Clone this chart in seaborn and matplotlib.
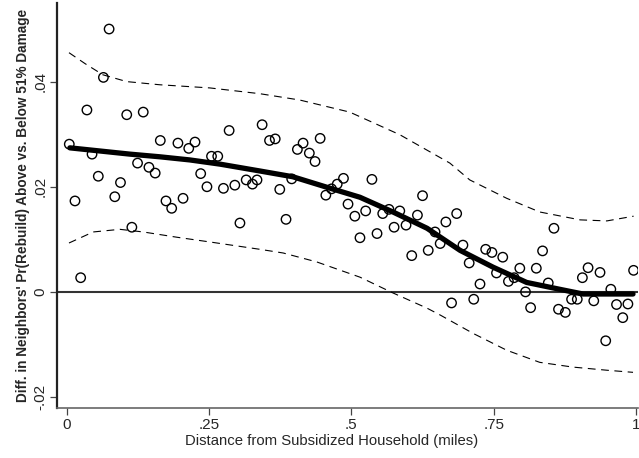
import numpy as np
import pandas as pd
import matplotlib
matplotlib.use("Agg")
import matplotlib.pyplot as plt
import seaborn as sns

# binned scatter
dist = [0.004, 0.014, 0.024, 0.035, 0.044, 0.055, 0.064, 0.074, 0.084, 0.094,
        0.105, 0.114, 0.124, 0.134, 0.144, 0.155, 0.164, 0.174, 0.184, 0.195,
        0.204, 0.214, 0.225, 0.235, 0.246, 0.254, 0.265, 0.275, 0.285, 0.295,
        0.304, 0.315, 0.326, 0.334, 0.343, 0.356, 0.366, 0.374, 0.385, 0.395,
        0.405, 0.415, 0.426, 0.436, 0.445, 0.455, 0.465, 0.475, 0.486, 0.494,
        0.506, 0.515, 0.525, 0.536, 0.545, 0.555, 0.566, 0.575, 0.585, 0.596,
        0.606, 0.616, 0.625, 0.635, 0.647, 0.656, 0.666, 0.676, 0.685, 0.696,
        0.707, 0.715, 0.726, 0.736, 0.747, 0.755, 0.766, 0.776, 0.786, 0.796,
        0.806, 0.815, 0.825, 0.836, 0.846, 0.856, 0.864, 0.876, 0.887, 0.897,
        0.906, 0.916, 0.926, 0.937, 0.947, 0.956, 0.966, 0.977, 0.986, 0.996]
diff = [0.0281, 0.0173, 0.0027, 0.0346, 0.0262, 0.0220, 0.0408, 0.0500, 0.0181, 0.0208,
        0.0337, 0.0123, 0.0245, 0.0342, 0.0237, 0.0226, 0.0288, 0.0173, 0.0159, 0.0283,
        0.0178, 0.0273, 0.0285, 0.0225, 0.0200, 0.0258, 0.0258, 0.0197, 0.0307, 0.0203,
        0.0131, 0.0213, 0.0205, 0.0213, 0.0318, 0.0288, 0.0291, 0.0195, 0.0138, 0.0215,
        0.0271, 0.0283, 0.0264, 0.0248, 0.0292, 0.0184, 0.0196, 0.0205, 0.0216, 0.0167,
        0.0144, 0.0103, 0.0154, 0.0214, 0.0111, 0.0149, 0.0157, 0.0123, 0.0154, 0.0127,
        0.0069, 0.0146, 0.0183, 0.0079, 0.0114, 0.0092, 0.0133, -0.0021, 0.0149, 0.0089,
        0.0055, -0.0014, 0.0015, 0.0081, 0.0075, 0.0036, 0.0066, 0.0020, 0.0027, 0.0045,
        0.0000, -0.0030, 0.0045, 0.0078, 0.0017, 0.0121, -0.0033, -0.0039, -0.0014, -0.0014,
        0.0027, 0.0046, -0.0017, 0.0037, -0.0093, 0.0005, -0.0024, -0.0049, -0.0023, 0.0041]

# smoothed fit
fit_x = [0.005, 0.058, 0.111, 0.163, 0.216, 0.269, 0.339, 0.397, 0.457, 0.515,
         0.573, 0.633, 0.691, 0.749, 0.808, 0.866, 0.907, 0.954, 0.995]
fit_y = [0.0274, 0.0268, 0.0262, 0.0257, 0.0251, 0.0243, 0.0230, 0.0219, 0.0199, 0.0180,
         0.0152, 0.0121, 0.0079, 0.0047, 0.0018, 0.0005, -0.0004, -0.0004, -0.0004]

# confidence bands
upper_x = [0.0035, 0.032, 0.063, 0.105, 0.163, 0.251, 0.339, 0.409, 0.497, 0.585,
           0.673, 0.708, 0.773, 0.831, 0.902, 0.949, 0.996]
upper_y = [0.0455, 0.0434, 0.0413, 0.0400, 0.0394, 0.0388, 0.0377, 0.0365, 0.0342, 0.0299,
           0.0245, 0.0213, 0.0178, 0.0152, 0.0137, 0.0135, 0.0144]
lower_x = [0.0035, 0.046, 0.093, 0.134, 0.193, 0.251, 0.339, 0.380, 0.439, 0.515,
           0.573, 0.633, 0.656, 0.714, 0.773, 0.831, 0.889, 0.949, 0.995]
lower_y = [0.0093, 0.0114, 0.0119, 0.0114, 0.0104, 0.0095, 0.0081, 0.0074, 0.0057, 0.0028,
           -0.0002, -0.0031, -0.0044, -0.0079, -0.0111, -0.0134, -0.0143, -0.0149, -0.0153]

yticks = [-0.02, 0, 0.02, 0.04]
ytick_labels = ['-.02', '0', '.02', '.04']
xticks = [0, 0.25, 0.5, 0.75, 1]
xtick_labels = ['0', '.25', '.5', '.75', '1']

sns.set_style('white')
plt.rcParams['font.family'] = ['Liberation Sans', 'DejaVu Sans']

fig = plt.figure(figsize=(6.39, 4.58), dpi=100)
ax = fig.add_axes([0.0892, 0.109, 0.909, 0.885])

pts = pd.DataFrame({'x': dist, 'y': diff})
fit = pd.DataFrame({'x': fit_x, 'y': fit_y})
up = pd.DataFrame({'x': upper_x, 'y': upper_y})
lo = pd.DataFrame({'x': lower_x, 'y': lower_y})

ax.axhline(0, color='#333333', lw=1.5, zorder=1)
sns.lineplot(data=up, x='x', y='y', ax=ax, color='black', lw=0.8,
             linestyle=(0, (7, 5)), zorder=2)
sns.lineplot(data=lo, x='x', y='y', ax=ax, color='black', lw=0.8,
             linestyle=(0, (7, 5)), zorder=2)
sns.scatterplot(data=pts, x='x', y='y', ax=ax, s=46, facecolor='none',
                edgecolor='black', linewidth=1.0, zorder=3)
sns.lineplot(data=fit, x='x', y='y', ax=ax, color='black', lw=3.8, zorder=4)

ax.set_xlim(-0.0176, 1.0035)
ax.set_ylim(-0.0221, 0.055)
ax.set_xticks(xticks)
ax.set_xticklabels(xtick_labels, fontsize=11)
ax.set_yticks(yticks)
ax.set_yticklabels(ytick_labels, fontsize=11, rotation=90, va='center')
ax.tick_params(axis='both', direction='out', length=5, width=0.9,
               color='#444444', left=True, bottom=True, pad=2)

for side in ['top', 'right']:
    ax.spines[side].set_visible(False)
ax.spines['left'].set_color('#222222')
ax.spines['left'].set_linewidth(1.6)
ax.spines['bottom'].set_color('#666666')
ax.spines['bottom'].set_linewidth(1.2)

ax.set_xlabel('Distance from Subsidized Household (miles)', fontsize=10.7, labelpad=2)
ax.xaxis.set_label_coords(0.472, -0.065)
ax.set_ylabel("Diff. in Neighbors' Pr(Rebuild) Above vs. Below 51% Damage",
              fontsize=9.8, fontweight='bold', labelpad=2)

fig.savefig('out.png', dpi=100)
